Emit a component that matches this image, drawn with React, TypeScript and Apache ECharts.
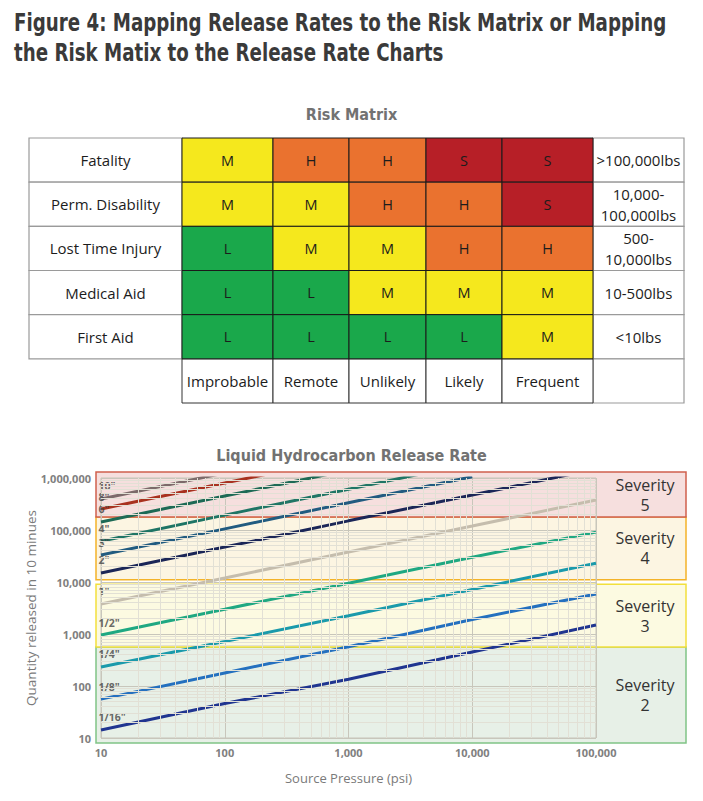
import React, { useEffect, useRef } from "react";
import * as echarts from "echarts";

// ---------- Data ----------
const titleText =
  "Figure 4: Mapping Release Rates to the Risk Matrix or Mapping\nthe Risk Matix to the Release Rate Charts";
const matrixTitle = "Risk Matrix";
const chartTitle = "Liquid Hydrocarbon Release Rate";

const severities = ["Fatality", "Perm. Disability", "Lost Time Injury", "Medical Aid", "First Aid"];
const likelihoods = ["Improbable", "Remote", "Unlikely", "Likely", "Frequent"];
const quantities = [">100,000lbs", "10,000-\n100,000lbs", "500-\n10,000lbs", "10-500lbs", "<10lbs"];
const riskMatrix = [
  ["M", "H", "H", "S", "S"],
  ["M", "M", "H", "H", "S"],
  ["L", "M", "M", "H", "H"],
  ["L", "L", "M", "M", "M"],
  ["L", "L", "L", "L", "M"],
];
const riskColors: Record<string, string> = { L: "#1aa84b", M: "#f5e81d", H: "#ea722f", S: "#b71f27" };

const pressures = [10, 100, 1000, 10000, 100000];
const xTickLabels = ["10", "100", "1,000", "10,000", "100,000"];
const holeSizes = ['10"', '8"', '6"', '4"', '3"', '2"', '1"', '1/2"', '1/4"', '1/8"', '1/16"'];
const holeColors = [
  "#7c6a6a", "#a8311f", "#1d6a55", "#1f7565", "#215b80", "#1b2657",
  "#c5bdad", "#1fa882", "#1a9aab", "#2470bf", "#203590",
];
// release quantity (lbs in 10 min) at pressures 10, 100, 1,000, 10,000, 100,000 psi
const holeValues: number[][] = [
  [395000, 1250000],
  [253000, 800000, 2530000],
  [143000, 450000, 1420000],
  [61000, 193000, 610000, 1930000],
  [33000, 105000, 335000, 1060000],
  [14900, 47000, 150000, 470000, 1490000],
  [3780, 11900, 37800, 119000, 378000],
  [955, 3000, 9500, 30000, 91000],
  [232, 720, 2250, 7200, 23000],
  [56, 178, 570, 1900, 5900],
  [14.3, 46, 135, 450, 1490],
];

const severityNames = ["Severity\n5", "Severity\n4", "Severity\n3", "Severity\n2"];
const severityHigh = [1300000, 178000, 9100, 560];
const severityLow = [178000, 11000, 560, 8];
const severityFill = ["#f6dfde", "#fcf5e2", "#fcfae1", "#e7f0e7"];
const severityStroke = ["#d0604d", "#f4b328", "#f2e03c", "#80c487"];

// ---------- Layout constants ----------
const colWeights = [153, 91, 76, 77, 76, 91, 91];
const colEdges = colWeights.reduce((acc: number[], w) => [...acc, acc[acc.length - 1] + w], [0]);

type Cell = { col: number; row: number; text: string; fill: string; stroke: string; lw: number; fs: number };

function buildCells(): Cell[] {
  const cells: Cell[] = [];
  severities.forEach((s, r) =>
    cells.push({ col: 0, row: r, text: s, fill: "#ffffff", stroke: "#9a9a9a", lw: 1.2, fs: 15 })
  );
  quantities.forEach((q, r) =>
    cells.push({ col: 6, row: r, text: q, fill: "#ffffff", stroke: "#9a9a9a", lw: 1.2, fs: 15 })
  );
  cells.push({ col: 6, row: 5, text: "", fill: "#ffffff", stroke: "#9a9a9a", lw: 1.2, fs: 15 });
  likelihoods.forEach((l, c) =>
    cells.push({ col: c + 1, row: 5, text: l, fill: "#ffffff", stroke: "#333333", lw: 1, fs: 15 })
  );
  riskMatrix.forEach((rowArr, r) =>
    rowArr.forEach((lvl, c) =>
      cells.push({ col: c + 1, row: r, text: lvl, fill: riskColors[lvl], stroke: "#1a1a1a", lw: 1, fs: 14.5 })
    )
  );
  return cells;
}

function minorValues(decades: number[]): number[] {
  const out: number[] = [];
  decades.forEach((d) => {
    for (let k = 2; k <= 9; k++) out.push(k * d);
  });
  return out;
}

export default function App() {
  const ref = useRef<HTMLDivElement>(null);

  useEffect(() => {
    if (!ref.current) return;
    const chart = echarts.init(ref.current, null, { renderer: "svg" });
    const cells = buildCells();
    const font = '"Open Sans", sans-serif';
    const condensed = '"DejaVu Sans Condensed", "DejaVu Sans", sans-serif';

    const xMinor = minorValues([10, 100, 1000, 10000]);
    const yMinor = minorValues([10, 100, 1000, 10000, 100000]);

    const option: any = {
      animation: false,
      backgroundColor: "#ffffff",
      title: [
        {
          text: matrixTitle,
          left: "center",
          top: 101,
          textStyle: { fontFamily: condensed, fontWeight: "bold", fontSize: 16, color: "#727272" },
        },
        {
          text: chartTitle,
          left: "center",
          top: 442,
          textStyle: { fontFamily: condensed, fontWeight: "bold", fontSize: 16, color: "#727272" },
        },
      ],
      grid: [
        {
          left: 101,
          top: 478,
          width: 495,
          height: 260,
          show: true,
          borderColor: "#c6c4b9",
          borderWidth: 1,
          backgroundColor: "transparent",
        },
        { left: 29, top: 138, width: 655, height: 265 },
      ],
      xAxis: [
        {
          type: "log",
          gridIndex: 0,
          min: 10,
          max: 100000,
          logBase: 10,
          name: "Source Pressure (psi)",
          nameLocation: "middle",
          nameGap: 33,
          nameMoveOverlap: false,
          nameTextStyle: { fontFamily: font, fontSize: 13, color: "#7a7a7a" },
          axisLine: { show: false },
          axisTick: { show: false },
          axisLabel: {
            margin: 9,
            fontFamily: font,
            fontWeight: "bold",
            fontSize: 11,
            color: "#808080",
            formatter: (v: number) => xTickLabels[pressures.indexOf(v)] ?? "",
          },
          splitLine: { show: true, lineStyle: { color: "#c8c6bb", width: 1 } },
        },
        { type: "value", gridIndex: 1, min: 0, max: colEdges[colEdges.length - 1], show: false },
      ],
      yAxis: [
        {
          type: "log",
          gridIndex: 0,
          min: 10,
          max: 1000000,
          logBase: 10,
          name: "Quantity released in 10 minues",
          nameLocation: "middle",
          nameRotate: 90,
          nameGap: 63,
          nameMoveOverlap: false,
          nameTextStyle: { fontFamily: font, fontSize: 13.5, color: "#7a7a7a" },
          axisLine: { show: false },
          axisTick: { show: false },
          axisLabel: {
            margin: 10,
            fontFamily: font,
            fontWeight: "bold",
            fontSize: 11,
            color: "#808080",
            formatter: (v: number) => v.toLocaleString("en-US"),
          },
          splitLine: { show: true, lineStyle: { color: "#c8c6bb", width: 1 } },
        },
        { type: "value", gridIndex: 1, min: 0, max: 6, inverse: true, show: false },
      ],
      series: [
        {
          name: "grid-minor",
          type: "line",
          xAxisIndex: 0,
          yAxisIndex: 0,
          data: [[10, 10]],
          symbol: "none",
          lineStyle: { opacity: 0 },
          silent: true,
          z: 1,
          markLine: {
            silent: true,
            symbol: ["none", "none"],
            label: { show: false },
            lineStyle: { color: "#e2e0d5", width: 1, type: "solid" },
            data: [...xMinor.map((v) => ({ xAxis: v })), ...yMinor.map((v) => ({ yAxis: v }))],
          },
        },
        ...holeSizes.map((s, i) => ({
          name: s,
          type: "line",
          xAxisIndex: 0,
          yAxisIndex: 0,
          data: holeValues[i].map((v, j) => [pressures[j], v]),
          showSymbol: false,
          symbol: "none",
          clip: true,
          z: 3,
          lineStyle: { color: holeColors[i], width: 3 },
        })),
        {
          name: "hole-labels",
          type: "scatter",
          xAxisIndex: 0,
          yAxisIndex: 0,
          symbolSize: 1,
          itemStyle: { color: "rgba(0,0,0,0)" },
          clip: false,
          z: 4,
          data: holeSizes.map((s, i) => ({ name: s, value: [pressures[0], holeValues[i][0]] })),
          label: {
            show: true,
            formatter: "{b}",
            position: [-2, -12],
            align: "left",
            verticalAlign: "middle",
            fontFamily: font,
            fontWeight: "bold",
            fontSize: 10.5,
            color: "#444444",
          },
        },
        {
          name: "risk-matrix",
          type: "custom",
          xAxisIndex: 1,
          yAxisIndex: 1,
          data: cells.map((c) => [colEdges[c.col], c.row]),
          renderItem: (params: any, api: any) => {
            const c = cells[params.dataIndex];
            const p0 = api.coord([colEdges[c.col], c.row]);
            const p1 = api.coord([colEdges[c.col + 1], c.row + 1]);
            return {
              type: "group",
              children: [
                {
                  type: "rect",
                  shape: { x: p0[0], y: p0[1], width: p1[0] - p0[0], height: p1[1] - p0[1] },
                  style: { fill: c.fill, stroke: c.stroke, lineWidth: c.lw },
                },
                {
                  type: "text",
                  style: {
                    text: c.text,
                    x: (p0[0] + p1[0]) / 2,
                    y: (p0[1] + p1[1]) / 2,
                    align: "center",
                    verticalAlign: "middle",
                    fill: "#1c1c1c",
                    fontSize: c.fs,
                    fontFamily: font,
                    lineHeight: 21,
                  },
                },
              ],
            };
          },
        },
      ],
    };

    chart.setOption(option);

    // severity bands positioned through the chart's own scales
    const xLeft = chart.convertToPixel({ xAxisIndex: 0 }, pressures[0]) as number;
    const xRight = chart.convertToPixel({ xAxisIndex: 0 }, pressures[pressures.length - 1]) as number;
    const bandLeft = xLeft - 5;
    const bandRight = xRight + 90;
    const graphics: any[] = [
      {
        type: "text",
        x: 14,
        y: 7,
        scaleX: 0.845,
        silent: true,
        style: {
          text: titleText,
          x: 0,
          y: 0,
          align: "left",
          verticalAlign: "top",
          fontFamily: condensed,
          fontWeight: "bold",
          fontSize: 24,
          lineHeight: 30,
          fill: "#3a3a3a",
        },
      },
    ];
    const order = [3, 2, 1, 0];
    order.forEach((i) => {
      const yTop = chart.convertToPixel({ yAxisIndex: 0 }, severityHigh[i]) as number;
      const yBot = chart.convertToPixel({ yAxisIndex: 0 }, severityLow[i]) as number;
      graphics.push({
        type: "rect",
        z: -10,
        silent: true,
        shape: { x: bandLeft, y: yTop, width: bandRight - bandLeft, height: yBot - yTop },
        style: { fill: severityFill[i], stroke: severityStroke[i], lineWidth: 1.5 },
      });
      graphics.push({
        type: "text",
        z: 10,
        silent: true,
        style: {
          text: severityNames[i],
          x: (xRight + bandRight) / 2 + 4,
          y: (yTop + yBot) / 2,
          align: "center",
          verticalAlign: "middle",
          fontFamily: font,
          fontSize: 16,
          lineHeight: 20,
          fill: "#333333",
        },
      });
    });
    chart.setOption({ graphic: graphics });

    return () => chart.dispose();
  }, []);

  return (
    <div
      ref={ref}
      style={{ position: "fixed", left: 0, top: 0, width: 703, height: 801, background: "#fff" }}
    />
  );
}
